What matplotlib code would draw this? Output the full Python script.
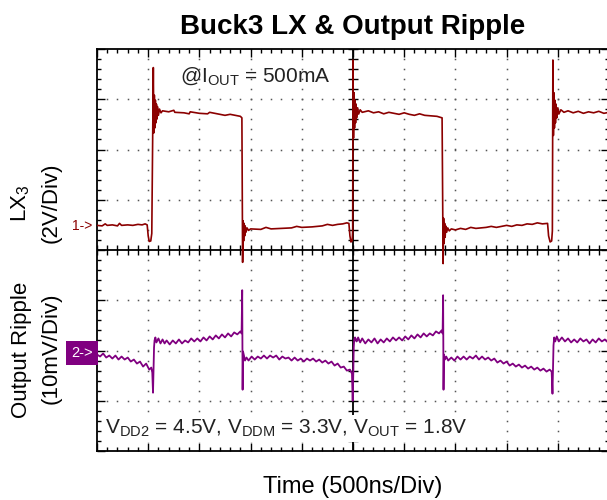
# Buck3 LX & output ripple - scope capture redrawn with matplotlib
import numpy as np
import matplotlib
matplotlib.use("Agg")
import matplotlib.pyplot as plt
from matplotlib.ticker import MultipleLocator

plt.rcParams['font.family'] = ['Liberation Sans', 'DejaVu Sans']
plt.rcParams['mathtext.fontset'] = 'custom'
plt.rcParams['mathtext.rm'] = 'Liberation Sans'
plt.rcParams['mathtext.it'] = 'Liberation Sans:italic'

# Channel 1: LX3 switch node (time in ns from trigger, volts)
lx_t = [-2500, -2450, -2420, -2400, -2350, -2300, -2280, -2260, -2200, -2150,
        -2100, -2060, -2030, -2010, -2000, -1990, -1975, -1965, -1950, -1945,
        -1940, -1935, -1930, -1925, -1920, -1915, -1910, -1900, -1890, -1875,
        -1860, -1800, -1750, -1740, -1650, -1600, -1590, -1500, -1420, -1400,
        -1300, -1250, -1200, -1150, -1100, -1085, -1078, -1073, -1068, -1063,
        -1058, -1053, -1045, -1035, -1020, -1000, -900, -850, -800, -700,
        -600, -550, -500, -400, -300, -250, -200, -150, -100, -60,
        -40, -30, -20, -8, -3, 0, 5, 10, 15, 20,
        25, 30, 35, 45, 55, 70, 90, 150, 200, 250,
        300, 350, 400, 450, 500, 550, 600, 650, 700, 760,
        820, 870, 880, 885, 890, 895, 900, 905, 915, 925,
        940, 960, 1000, 1050, 1100, 1150, 1200, 1300, 1350, 1400,
        1500, 1550, 1600, 1650, 1700, 1750, 1800, 1850, 1900, 1910,
        1925, 1940, 1947, 1952, 1957, 1962, 1967, 1972, 1977, 1982,
        1990, 2000, 2010, 2030, 2060, 2100, 2150, 2200, 2250, 2300,
        2350, 2400, 2450, 2500]
lx_v = [0.02, 0.00, 0.08, 0.02, 0.04, 0.00, 0.10, 0.02, 0.04, 0.02,
        0.06, 0.04, 0.08, 0.04, -0.40, -0.62, -0.60, -0.30, 6.30, 3.70,
        5.20, 3.90, 5.00, 4.10, 4.85, 4.25, 4.75, 4.40, 4.65, 4.50,
        4.58, 4.54, 4.60, 4.52, 4.50, 4.46, 4.54, 4.48, 4.46, 4.52,
        4.44, 4.40, 4.44, 4.40, 4.36, 4.30, -1.45, 0.20, -0.60, 0.10,
        -0.40, 0.00, -0.25, -0.08, -0.18, -0.12, -0.14, -0.06, -0.12, -0.10,
        -0.08, -0.02, -0.06, -0.04, 0.00, 0.06, 0.02, 0.06, 0.08, 0.12,
        0.10, -0.40, -0.64, -0.60, -0.20, 6.60, 3.50, 5.30, 3.90, 5.00,
        4.10, 4.85, 4.30, 4.70, 4.45, 4.62, 4.52, 4.58, 4.50, 4.54,
        4.46, 4.52, 4.48, 4.44, 4.50, 4.44, 4.40, 4.46, 4.40, 4.38,
        4.36, 4.30, -1.50, 0.30, -0.70, 0.10, -0.45, 0.00, -0.25, -0.08,
        -0.20, -0.12, -0.16, -0.10, -0.14, -0.06, -0.10, -0.06, -0.02, -0.06,
        0.02, -0.02, 0.04, 0.02, 0.08, 0.06, 0.12, 0.08, 0.10, -0.40,
        -0.64, -0.60, -0.20, 6.60, 3.60, 5.30, 3.90, 5.00, 4.10, 4.85,
        4.30, 4.70, 4.45, 4.62, 4.52, 4.58, 4.50, 4.56, 4.48, 4.54,
        4.50, 4.56, 4.48, 4.52]

# Channel 2: output ripple (time in ns, mV, AC coupled)
rip_t = [-2500, -2470, -2440, -2410, -2380, -2350, -2320, -2290, -2260, -2230,
         -2200, -2170, -2140, -2110, -2080, -2050, -2020, -1990, -1970, -1960,
         -1953, -1948, -1943, -1938, -1930, -1920, -1900, -1880, -1860, -1840,
         -1820, -1790, -1760, -1730, -1700, -1670, -1640, -1610, -1580, -1550,
         -1520, -1490, -1460, -1430, -1400, -1370, -1340, -1310, -1280, -1250,
         -1220, -1190, -1160, -1130, -1100, -1088, -1082, -1078, -1074, -1065,
         -1055, -1040, -1020, -990, -960, -930, -900, -870, -840, -810,
         -780, -750, -720, -690, -660, -630, -600, -570, -540, -510,
         -480, -450, -420, -390, -360, -330, -300, -270, -240, -210,
         -180, -150, -120, -90, -60, -30, -10, -3, 3, 7,
         12, 20, 35, 50, 70, 90, 120, 150, 180, 210,
         240, 270, 300, 330, 360, 390, 420, 450, 480, 510,
         540, 570, 600, 630, 660, 690, 720, 750, 780, 810,
         840, 865, 875, 880, 884, 888, 898, 910, 930, 960,
         990, 1020, 1050, 1080, 1110, 1140, 1170, 1200, 1230, 1260,
         1290, 1320, 1350, 1380, 1410, 1440, 1470, 1500, 1530, 1560,
         1590, 1620, 1650, 1680, 1710, 1740, 1770, 1800, 1830, 1860,
         1890, 1920, 1940, 1948, 1953, 1958, 1965, 1975, 1990, 2010,
         2040, 2070, 2100, 2130, 2160, 2190, 2220, 2250, 2280, 2310,
         2340, 2370, 2400, 2430, 2460, 2490, 2500]
rip_mv = [-0.4, -0.8, -0.2, -1.0, -0.6, -1.2, -0.6, -1.4, -0.8, -1.4,
          -1.0, -1.8, -1.4, -2.2, -1.8, -2.8, -2.2, -3.4, -3.0, -4.0,
          -8.0, -3.6, 1.0, 2.4, 3.0, 2.0, 2.8, 1.8, 2.6, 1.8,
          2.4, 1.6, 2.4, 1.8, 2.6, 1.8, 2.4, 2.0, 2.8, 2.2,
          2.8, 2.2, 3.0, 2.4, 3.2, 2.6, 3.4, 2.8, 3.6, 3.0,
          3.8, 3.2, 4.0, 3.6, 4.2, 3.8, 12.4, -7.4, 0.2, -0.6,
          -1.6, -1.0, -1.6, -0.8, -1.4, -0.8, -1.2, -0.6, -1.2, -0.6,
          -1.0, -0.6, -1.4, -0.8, -1.2, -1.0, -1.6, -1.0, -1.6, -1.2,
          -1.8, -1.2, -1.6, -1.2, -1.8, -1.4, -2.0, -1.6, -2.2, -1.8,
          -2.6, -2.2, -3.0, -2.8, -3.6, -3.4, -4.2, -9.6, -4.0, 1.0,
          2.6, 3.0, 2.2, 3.0, 2.0, 2.8, 1.8, 2.6, 2.0, 2.8,
          1.8, 2.6, 2.0, 2.8, 2.2, 3.0, 2.4, 3.0, 2.4, 3.2,
          2.6, 3.4, 2.8, 3.6, 3.0, 3.8, 3.2, 3.8, 3.4, 4.2,
          3.8, 4.4, 3.8, 11.4, -7.4, -0.4, -1.4, -0.8, -1.6, -1.0,
          -1.6, -0.8, -1.4, -0.8, -1.4, -0.8, -1.2, -0.6, -1.4, -0.8,
          -1.4, -1.0, -1.6, -1.2, -2.0, -1.6, -2.2, -1.8, -2.6, -2.2,
          -2.8, -2.4, -3.0, -2.6, -3.2, -2.8, -3.4, -3.0, -3.6, -3.2,
          -3.8, -3.4, -3.8, -8.2, -3.4, 1.4, 3.0, 2.2, 3.2, 2.2,
          3.0, 2.2, 2.8, 2.0, 2.6, 2.0, 2.8, 2.2, 2.6, 1.8,
          2.6, 2.0, 2.8, 2.2, 2.6, 2.0, 2.4]

# scope settings
time_div = 500      # ns/div
ch1_scale = 2.0     # V/div
ch1_offset = 0.48   # div, ground marker "1->"
ch2_scale = 10.0    # mV/div
ch2_offset = -2.04  # div, ground marker "2->"

lx_col = '#8b0000'
rip_col = '#800080'
txt_col = '#222222'

fig = plt.figure(figsize=(6.07, 5.0), dpi=100)
W, H = 607, 500
ax = fig.add_axes([97 / W, 49 / H, 512 / W, 402 / H])
ax.set_xlim(-5 * time_div, 5 * time_div)
ax.set_ylim(-4, 4)

# dotted graticule
minor_x = np.arange(-2500, 2501, 100)
minor_y = np.arange(-4, 4.01, 0.2)
for gx in np.arange(-2000, 2001, 500):
    if gx == 0:
        continue
    ax.plot(np.full_like(minor_y, gx), minor_y, ls='none', marker='s',
            ms=1.1, mew=0, color='#555555', zorder=1)
for gy in range(-3, 4):
    if gy == 0:
        continue
    ax.plot(minor_x, np.full_like(minor_x, gy, dtype=float), ls='none',
            marker='s', ms=1.1, mew=0, color='#555555', zorder=1)

# centre crosshair with small ticks
ax.axvline(0, color='black', lw=1.3, zorder=2)
ax.axhline(0, color='black', lw=1.3, zorder=2)
ax.hlines(minor_y, -45, 45, color='black', lw=1.0, zorder=2)
ax.vlines(minor_x, -0.09, 0.09, color='black', lw=1.0, zorder=2)

# border ticks
ax.xaxis.set_major_locator(MultipleLocator(500))
ax.xaxis.set_minor_locator(MultipleLocator(100))
ax.yaxis.set_major_locator(MultipleLocator(1))
ax.yaxis.set_minor_locator(MultipleLocator(0.2))
ax.tick_params(which='both', direction='in', top=True, right=True,
               labelleft=False, labelbottom=False, width=1.0, color='black')
ax.tick_params(which='major', length=6)
ax.tick_params(which='minor', length=3)
for s in ax.spines.values():
    s.set_linewidth(1.3)

# traces
ax.plot(lx_t, np.array(lx_v) / ch1_scale + ch1_offset, color=lx_col, lw=1.2, zorder=3)
ax.plot(rip_t, np.array(rip_mv) / ch2_scale + ch2_offset, color=rip_col, lw=1.3, zorder=3)

# texts
fig.text(353 / W, 1 - 34 / H, 'Buck3 LX & Output Ripple', ha='center', va='baseline',
         fontsize=20, fontweight='bold', color='black')
fig.text(180 / W, 1 - 82 / H, r'@I$_{\mathrm{OUT}}$ = 500mA', ha='left', va='baseline',
         fontsize=15, color=txt_col)
fig.text(105 / W, 1 - 434 / H,
         r'V$_{\mathrm{DD2}}$ = 4.5V, V$_{\mathrm{DDM}}$ = 3.3V, V$_{\mathrm{OUT}}$ = 1.8V',
         ha='left', va='baseline', fontsize=15, color=txt_col, zorder=5,
         bbox=dict(boxstyle='square,pad=0.15', fc='white', ec='none'))
fig.text(353 / W, 1 - 487 / H, 'Time (500ns/Div)', ha='center', va='center',
         fontsize=17, color='black')

fig.text(21 / W, 1 - 203 / H, r'LX$_3$', rotation=90, ha='center', va='center',
         fontsize=16, color='black')
fig.text(51 / W, 1 - 203 / H, '(2V/Div)', rotation=90, ha='center', va='center',
         fontsize=16, color='black')
fig.text(22 / W, 1 - 350 / H, 'Output Ripple', rotation=90, ha='center', va='center',
         fontsize=16, color='black')
fig.text(51 / W, 1 - 348 / H, '(10mV/Div)', rotation=90, ha='center', va='center',
         fontsize=16, color='black')

# channel ground markers
fig.text(82 / W, 1 - 226 / H, '1->', ha='center', va='center', fontsize=10,
         color=lx_col)
fig.text(82 / W, 1 - 353 / H, '2->', ha='center', va='center', fontsize=10.5,
         color='white', bbox=dict(boxstyle='square,pad=0.35', fc=rip_col, ec='none'))

fig.savefig('out.png', dpi=100)
